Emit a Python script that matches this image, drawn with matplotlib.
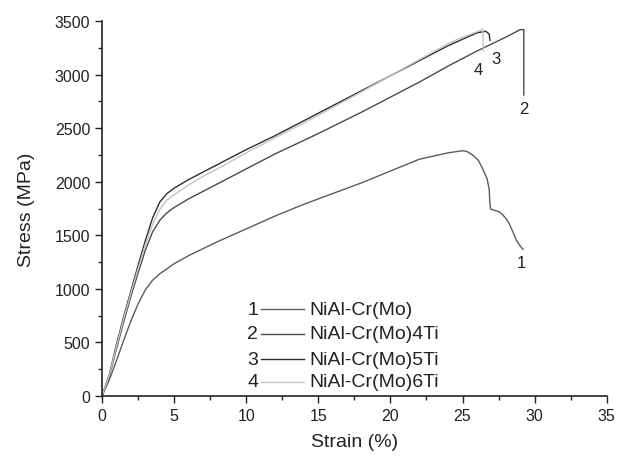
import matplotlib
matplotlib.use("Agg")
import matplotlib.pyplot as plt
from matplotlib.ticker import MultipleLocator

plt.rcParams['font.family'] = ['Liberation Sans', 'DejaVu Sans']

names = ["NiAl-Cr(Mo)", "NiAl-Cr(Mo)4Ti", "NiAl-Cr(Mo)5Ti", "NiAl-Cr(Mo)6Ti"]
numbers = ["1", "2", "3", "4"]

x1 = [0, 0.5, 1, 1.5, 2, 2.5, 3, 3.5, 4, 5, 6, 7, 8, 10, 12, 14, 16, 18, 20, 22, 24, 25,
      25.3, 25.7, 26.1, 26.4, 26.7, 26.85, 26.9, 26.95, 27.3, 27.6, 27.8, 28.05, 28.2, 28.5,
      28.75, 29.0, 29.2]
y1 = [0, 150, 330, 520, 700, 860, 990, 1080, 1140, 1235, 1310, 1375, 1440, 1560, 1680, 1790,
      1890, 1990, 2100, 2210, 2270, 2290, 2283, 2250, 2200, 2120, 2030, 1930, 1800, 1745, 1730,
      1715, 1690, 1650, 1620, 1530, 1450, 1400, 1370]

x2 = [0, 0.5, 1, 1.5, 2, 2.5, 3, 3.5, 4, 4.5, 5, 6, 7, 8, 10, 12, 15, 18, 20, 22, 24, 26, 28,
      29, 29.25, 29.25]
y2 = [0, 180, 440, 690, 930, 1150, 1360, 1530, 1640, 1710, 1760, 1840, 1910, 1980, 2120, 2260,
      2450, 2650, 2790, 2930, 3080, 3220, 3350, 3420, 3420, 2810]

x3 = [0, 0.5, 1, 1.5, 2, 2.5, 3, 3.5, 4, 4.5, 5, 6, 7, 8, 10, 12, 15, 18, 20, 22, 24, 25, 26,
      26.6, 26.85, 26.9]
y3 = [0, 200, 480, 740, 980, 1220, 1450, 1660, 1810, 1890, 1940, 2020, 2090, 2160, 2300, 2430,
      2640, 2850, 2990, 3130, 3270, 3330, 3390, 3405, 3380, 3320]

x4 = [0, 0.5, 1, 1.5, 2, 2.5, 3, 3.5, 4, 4.5, 5, 6, 7, 8, 10, 12, 15, 18, 20, 22, 24, 25, 26,
      26.4, 26.45]
y4 = [0, 190, 460, 720, 960, 1190, 1410, 1600, 1740, 1830, 1880, 1970, 2050, 2120, 2270, 2410,
      2620, 2840, 2990, 3140, 3290, 3350, 3400, 3425, 3220]

colors = ['#5c5c5c', '#4a4a4a', '#2e2e2e', '#c4c4c4']
xs = [x1, x2, x3, x4]
ys = [y1, y2, y3, y4]

fig = plt.figure(figsize=(6.3, 4.6), dpi=100)
ax = fig.add_axes([0.162, 0.137, 0.801, 0.815])

for x, y, c in zip(xs, ys, colors):
    ax.plot(x, y, color=c, lw=1.0)

# end labels
end_pos = [(29.1, 1250), (29.25, 2680), (27.3, 3155), (26.1, 3045)]
for n, (px, py) in zip(numbers, end_pos):
    ax.text(px, py, n, fontsize=12, ha='center', va='center', color='#222222')

# legend drawn manually
leg_y = [812, 580, 345, 133]
for n, name, c, yy in zip(numbers, names, colors, leg_y):
    ax.text(10.45, yy, n, fontsize=14, ha='center', va='center', color='#222222')
    ax.plot([11.0, 14.0], [yy, yy], color=c, lw=1.0)
    ax.text(14.35, yy, name, fontsize=14, ha='left', va='center', color='#222222')

ax.set_xlim(0, 35)
ax.set_ylim(0, 3500)
ax.xaxis.set_major_locator(MultipleLocator(5))
ax.xaxis.set_minor_locator(MultipleLocator(2.5))
ax.yaxis.set_major_locator(MultipleLocator(500))
ax.yaxis.set_minor_locator(MultipleLocator(250))
ax.tick_params(which='major', direction='out', length=5, width=1, labelsize=11.5, colors='#222222')
ax.tick_params(which='minor', direction='out', length=3, width=1, colors='#222222')
for s in ['top', 'right']:
    ax.spines[s].set_visible(False)
for s in ['left', 'bottom']:
    ax.spines[s].set_color('#222222')
    ax.spines[s].set_linewidth(1.2)

ax.set_xlabel('Strain (%)', fontsize=14, color='#222222', labelpad=7)
ax.set_ylabel('Stress (MPa)', fontsize=14, color='#222222', labelpad=14)

fig.savefig('out.png', dpi=100, facecolor='white')
